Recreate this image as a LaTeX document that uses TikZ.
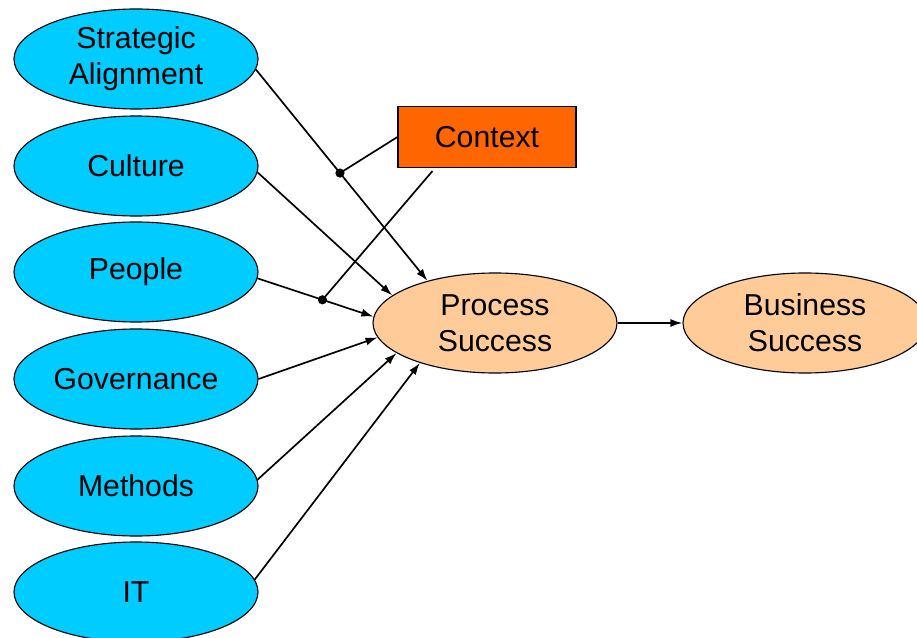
\documentclass[tikz,border=0pt]{standalone}
\usepackage{fontspec}
\setmainfont{Liberation Sans}
\usetikzlibrary{shapes.geometric,arrows.meta}
\definecolor{factorblue}{HTML}{00CCFF}
\definecolor{successtan}{HTML}{FFCC99}
\definecolor{contextorange}{HTML}{FF6600}
\tikzset{
  factor/.style={ellipse,draw,line width=0.8pt,fill=factorblue,minimum width=6.1cm,minimum height=2.5cm,inner sep=0pt,align=center,font=\fontsize{21.5}{25.5}\selectfont},
  outcome/.style={factor,fill=successtan},
  link/.style={line width=1.2pt,-{Latex[length=3mm,width=2mm]}}
}

\begin{document}
\begin{tikzpicture}
  \useasboundingbox (0,0) rectangle (22.925,15.925);
  \node[factor] (sa) at (3.4,14.45) {Strategic\\Alignment};
  \node[factor] (cu) at (3.4,11.775) {Culture};
  \node[factor] (pe) at (3.4,9.125) {People};
  \node[factor] (go) at (3.4,6.45) {Governance};
  \node[factor] (me) at (3.4,3.775) {Methods};
  \node[factor] (it) at (3.4,1.125) {IT};
  \node[outcome] (ps) at (12.375,7.85) {Process\\Success};
  \node[outcome] (bs) at (20.125,7.85) {Business\\Success};
  \node[draw,line width=0.8pt,fill=contextorange,minimum width=4.45cm,minimum height=1.525cm,font=\fontsize{21.5}{25.5}\selectfont] (ctx) at (12.175,12.5) {Context};

  \draw[link] (sa.-5) -- coordinate[pos=0.49] (d1) (ps.148);
  \draw[link] (cu.-3) -- (ps.165);
  \draw[link] (pe.-3) -- coordinate[pos=0.56] (d2) (ps.177);
  \draw[link] (go.east) -- (ps.187);
  \draw[link] (me.3) -- (ps.197);
  \draw[link] (it.6) -- (ps.208);
  \draw[link] (ps) -- (bs);

  % context acts on two of the links
  \draw[line width=1.2pt] (ctx.west) -- (d1);
  \draw[line width=1.2pt] ([xshift=0.875cm,yshift=-0.075cm]ctx.south west) -- (d2);
  \fill (d1) circle (0.115);
  \fill (d2) circle (0.115);
\end{tikzpicture}
\end{document}
